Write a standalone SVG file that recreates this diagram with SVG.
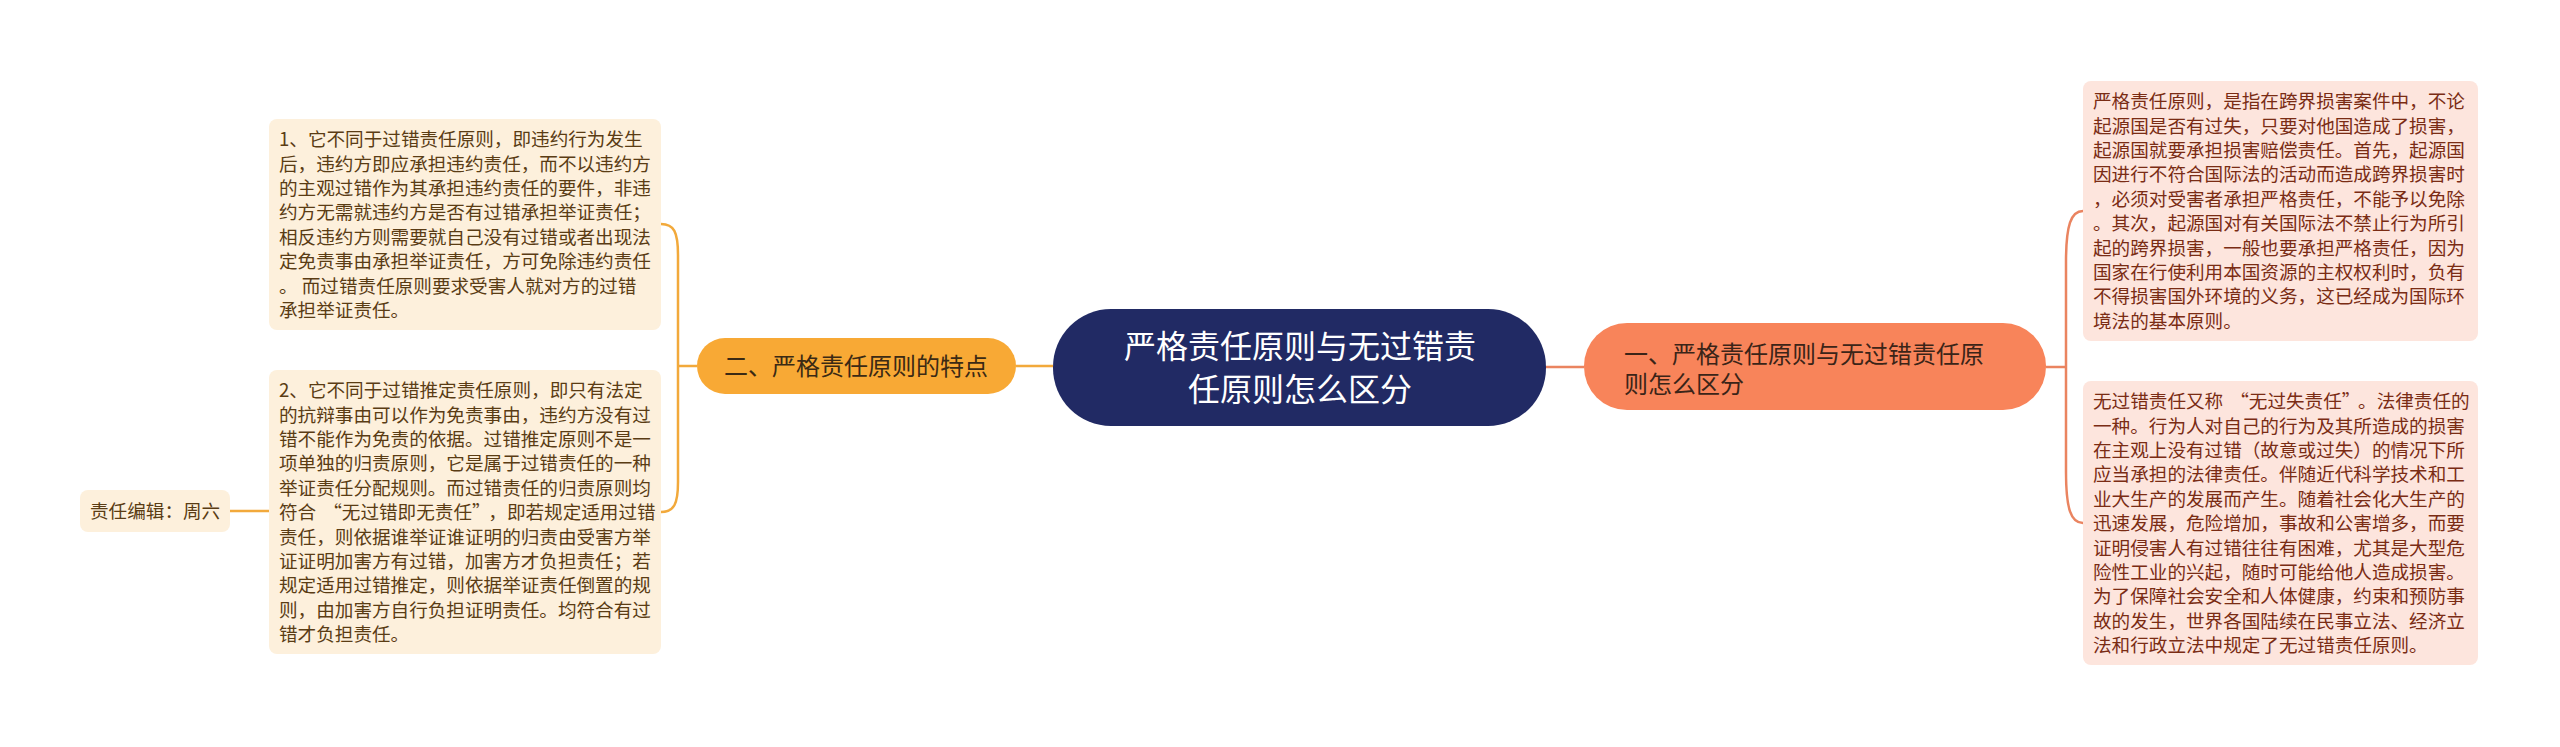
<svg xmlns="http://www.w3.org/2000/svg" width="2560" height="747" viewBox="0 0 2560 747">
<style>
text{font-family:"Noto Sans CJK SC","Noto Sans",sans-serif;}
.lbox{fill:#fdf0dc;}
.rbox{fill:#fde5dd;}
.lt{font-size:18.6px;fill:#5a3c14;}
.rt{font-size:18.6px;fill:#7a2c14;}
.lc{fill:none;stroke:#f2a93b;stroke-width:2.5;}
.rc{fill:none;stroke:#ea8460;stroke-width:2.5;}
</style>
<rect width="2560" height="747" fill="#ffffff"/>
<g id="connectors">
<path class="lc" d="M1016 366 L1053 366"/>
<path class="rc" d="M1546 367 L1584 367"/>
<path class="lc" d="M697 366 L678 366"/>
<path class="lc" d="M661 224 C674 224 678 232 678 255 L678 482 C678 504 674 512 661 512"/>
<path class="lc" d="M230 511 L269 511"/>
<path class="rc" d="M2046 367 L2066 367"/>
<path class="rc" d="M2083 211 C2071 211 2066 225 2066 262 L2066 472 C2066 509 2071 523 2083 523"/>
</g>
<g id="center">
<rect x="1053" y="309" width="493" height="117" rx="58" fill="#212a64"/>
<text x="1300" y="358" font-size="32" fill="#ffffff" text-anchor="middle">严格责任原则与无过错责</text>
<text x="1300" y="401" font-size="32" fill="#ffffff" text-anchor="middle">任原则怎么区分</text>
</g>
<g id="node-left">
<rect x="697" y="338" width="319" height="56" rx="28" fill="#f8a935"/>
<text x="856" y="375" font-size="24" fill="#3b2a14" text-anchor="middle">二、严格责任原则的特点</text>
</g>
<g id="node-right">
<rect x="1584" y="323" width="462" height="87" rx="43" fill="#f8845a"/>
<text x="1624" y="363" font-size="24" fill="#3b2418">一、严格责任原则与无过错责任原</text>
<text x="1624" y="393" font-size="24" fill="#3b2418">则怎么区分</text>
</g>
<g id="left-box-1">
<rect class="lbox" x="269" y="119" width="392" height="211" rx="8"/>
<text class="lt" x="279" y="146.2">1、它不同于过错责任原则，即违约行为发生</text>
<text class="lt" x="279" y="170.6">后，违约方即应承担违约责任，而不以违约方</text>
<text class="lt" x="279" y="195">的主观过错作为其承担违约责任的要件，非违</text>
<text class="lt" x="279" y="219.4">约方无需就违约方是否有过错承担举证责任；</text>
<text class="lt" x="279" y="243.8">相反违约方则需要就自己没有过错或者出现法</text>
<text class="lt" x="279" y="268.2">定免责事由承担举证责任，方可免除违约责任</text>
<text class="lt" x="279" y="292.6">。 而过错责任原则要求受害人就对方的过错</text>
<text class="lt" x="279" y="317">承担举证责任。</text>
</g>
<g id="left-box-2">
<rect class="lbox" x="269" y="370" width="392" height="284" rx="8"/>
<text class="lt" x="279" y="397.2">2、它不同于过错推定责任原则，即只有法定</text>
<text class="lt" x="279" y="421.6">的抗辩事由可以作为免责事由，违约方没有过</text>
<text class="lt" x="279" y="446">错不能作为免责的依据。过错推定原则不是一</text>
<text class="lt" x="279" y="470.4">项单独的归责原则，它是属于过错责任的一种</text>
<text class="lt" x="279" y="494.8">举证责任分配规则。而过错责任的归责原则均</text>
<text class="lt" x="279" y="519.2">符合<tspan dx="7">“</tspan>无过错即无责任”<tspan dx="7">，</tspan>即若规定适用过错</text>
<text class="lt" x="279" y="543.6">责任，则依据谁举证谁证明的归责由受害方举</text>
<text class="lt" x="279" y="568">证证明加害方有过错，加害方才负担责任；若</text>
<text class="lt" x="279" y="592.4">规定适用过错推定，则依据举证责任倒置的规</text>
<text class="lt" x="279" y="616.8">则，由加害方自行负担证明责任。均符合有过</text>
<text class="lt" x="279" y="641.2">错才负担责任。</text>
</g>
<g id="editor">
<rect class="lbox" x="80" y="490" width="150" height="42" rx="8"/>
<text class="lt" x="90" y="518">责任编辑：周六</text>
</g>
<g id="right-box-1">
<rect class="rbox" x="2083" y="81" width="395" height="260" rx="8"/>
<text class="rt" x="2093" y="108.2">严格责任原则，是指在跨界损害案件中，不论</text>
<text class="rt" x="2093" y="132.6">起源国是否有过失，只要对他国造成了损害，</text>
<text class="rt" x="2093" y="157">起源国就要承担损害赔偿责任。首先，起源国</text>
<text class="rt" x="2093" y="181.4">因进行不符合国际法的活动而造成跨界损害时</text>
<text class="rt" x="2093" y="205.8">，必须对受害者承担严格责任，不能予以免除</text>
<text class="rt" x="2093" y="230.2">。其次，起源国对有关国际法不禁止行为所引</text>
<text class="rt" x="2093" y="254.6">起的跨界损害，一般也要承担严格责任，因为</text>
<text class="rt" x="2093" y="279">国家在行使利用本国资源的主权权利时，负有</text>
<text class="rt" x="2093" y="303.4">不得损害国外环境的义务，这已经成为国际环</text>
<text class="rt" x="2093" y="327.8">境法的基本原则。</text>
</g>
<g id="right-box-2">
<rect class="rbox" x="2083" y="381" width="395" height="284" rx="8"/>
<text class="rt" x="2093" y="408.2">无过错责任又称<tspan dx="7">“</tspan>无过失责任”<tspan dx="7">。</tspan>法律责任的</text>
<text class="rt" x="2093" y="432.6">一种。行为人对自己的行为及其所造成的损害</text>
<text class="rt" x="2093" y="457">在主观上没有过错（故意或过失）的情况下所</text>
<text class="rt" x="2093" y="481.4">应当承担的法律责任。伴随近代科学技术和工</text>
<text class="rt" x="2093" y="505.8">业大生产的发展而产生。随着社会化大生产的</text>
<text class="rt" x="2093" y="530.2">迅速发展，危险增加，事故和公害增多，而要</text>
<text class="rt" x="2093" y="554.6">证明侵害人有过错往往有困难，尤其是大型危</text>
<text class="rt" x="2093" y="579">险性工业的兴起，随时可能给他人造成损害。</text>
<text class="rt" x="2093" y="603.4">为了保障社会安全和人体健康，约束和预防事</text>
<text class="rt" x="2093" y="627.8">故的发生，世界各国陆续在民事立法、经济立</text>
<text class="rt" x="2093" y="652.2">法和行政立法中规定了无过错责任原则。</text>
</g>
</svg>
